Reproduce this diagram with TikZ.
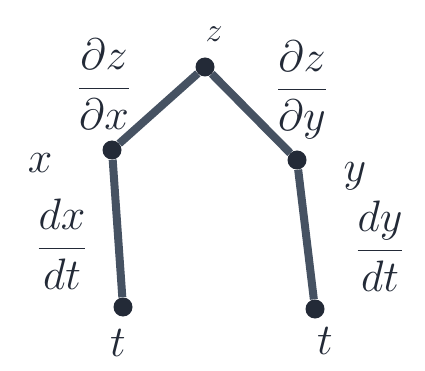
\RequirePackage{fix-cm}
\documentclass[tikz,border=0pt]{standalone}
\usepackage{amsmath}
\usepackage{xcolor}
\usepackage{tikz}
\usetikzlibrary{positioning}
\definecolor{myink}{RGB}{35,42,55}
\definecolor{mystroke}{RGB}{70,82,98}

\begin{document}
\begin{tikzpicture}[x=1pt,y=-1pt]
    \tikzstyle{dot}=[circle, fill=myink, inner sep=0pt, minimum size=19pt]
    \tikzstyle{branch}=[draw=mystroke, line width=8pt]
    \tikzstyle{var}=[text=myink, font=\fontsize{44}{50}\selectfont, inner sep=0pt]
    \tikzstyle{rate}=[text=myink, font=\fontsize{44}{50}\selectfont, inner sep=0pt]
    \useasboundingbox (0,0) rectangle (425,371);
    % Tree points
    \node[dot] (z) at (205,67) {};
    \node[dot] (x) at (112,150) {};
    \node[dot] (y) at (297,160) {};
    \node[dot] (tx) at (123,307) {};
    \node[dot] (ty) at (315,309) {};
    \draw[branch] (z) -- (x);
    \draw[branch] (z) -- (y);
    \draw[branch] (x) -- (tx);
    \draw[branch] (y) -- (ty);
    % Variable names
    \node[var, font=\fontsize{34}{40}\selectfont] (zlab) at (214,34) {$z$};
    \node[var] (xlab) at (40,163) {$x$};
    \node[var] (ylab) at (355,176) {$y$};
    \node[var] (txlab) at (118,343) {$t$};
    \node[var] (tylab) at (325,341) {$t$};
    % Derivatives on the branches
    \node[rate] (dzdx) at (104,84) {$\dfrac{\partial z}{\partial x}$};
    \node[rate] (dzdy) at (302,90) {$\dfrac{\partial z}{\partial y}$};
    \node[rate] (dxdt) at (62,244) {$\dfrac{dx}{dt}$};
    \node[rate] (dydt) at (380,246) {$\dfrac{dy}{dt}$};
\end{tikzpicture}
\end{document}
